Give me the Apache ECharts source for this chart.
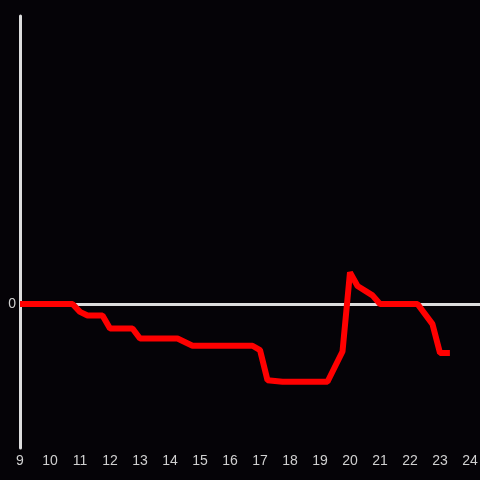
<!DOCTYPE html>
<html>
<head>
<meta charset="utf-8">
<script src="https://cdn.jsdelivr.net/npm/echarts@6/dist/echarts.min.js"></script>
<style>
html, body { margin: 0; padding: 0; background: #050307; }
#chart { width: 480px; height: 480px; }
</style>
</head>
<body>
<div id="chart"></div>
<script>
// hour of day and value
var hours = [9, 10.75, 11, 11.25, 11.75, 12, 12.75, 13, 14.25, 14.75, 16.75, 17, 17.25, 17.75,
	19.25, 19.75, 20, 20.25, 20.75, 21, 22.25, 22.75, 23, 23.33];
var values = [0, 0, -0.055, -0.08, -0.08, -0.17, -0.17, -0.24, -0.24, -0.29, -0.29, -0.32, -0.53, -0.54,
	-0.54, -0.33, 0.22, 0.125, 0.06, 0, 0, -0.14, -0.34, -0.34];
var xTicks = [9, 10, 11, 12, 13, 14, 15, 16, 17, 18, 19, 20, 21, 22, 23, 24];

var lineData = [];
for (var i = 0; i < hours.length; i++) {
	lineData.push([hours[i], values[i]]);
}

var chart = echarts.init(document.getElementById('chart'));
var option = {
	backgroundColor : '#050307',
	animation : false,
	grid : {
		left : 20,
		right : 0,
		top : 16,
		bottom : 32,
		containLabel : false,
		outerBoundsMode : 'none'
	},
	xAxis : {
		type : 'value',
		min : 9,
		max : 24 + 1 / 3,
		interval : 1,
		axisLine : { show : false },
		axisTick : { show : false },
		splitLine : { show : false },
		axisLabel : {
			color : '#d0d0d0',
			fontSize : 14,
			fontFamily : 'Liberation Sans',
			margin : 6,
			formatter : function(v) {
				return xTicks.indexOf(v) >= 0 ? String(v) : '';
			}
		}
	},
	yAxis : {
		type : 'value',
		min : -1,
		max : 2,
		interval : 1,
		axisLine : { show : true, lineStyle : { color : '#dddddd', width : 3 } },
		axisTick : { show : false },
		splitLine : { show : false },
		axisLabel : {
			color : '#d0d0d0',
			fontSize : 14,
			fontFamily : 'Liberation Sans',
			margin : 4,
			formatter : function(v) {
				return v === 0 ? '0' : '';
			}
		}
	},
	series : [ {
		type : 'line',
		data : [],
		z : 1,
		markLine : {
			silent : true,
			symbol : 'none',
			label : { show : false },
			lineStyle : { color : '#dddddd', width : 3, type : 'solid' },
			data : [ { yAxis : 0 } ]
		}
	}, {
		type : 'line',
		z : 5,
		data : lineData,
		showSymbol : false,
		smooth : false,
		lineStyle : { color : '#ff0000', width : 6 }
	} ]
};
chart.setOption(option);
</script>
</body>
</html>
